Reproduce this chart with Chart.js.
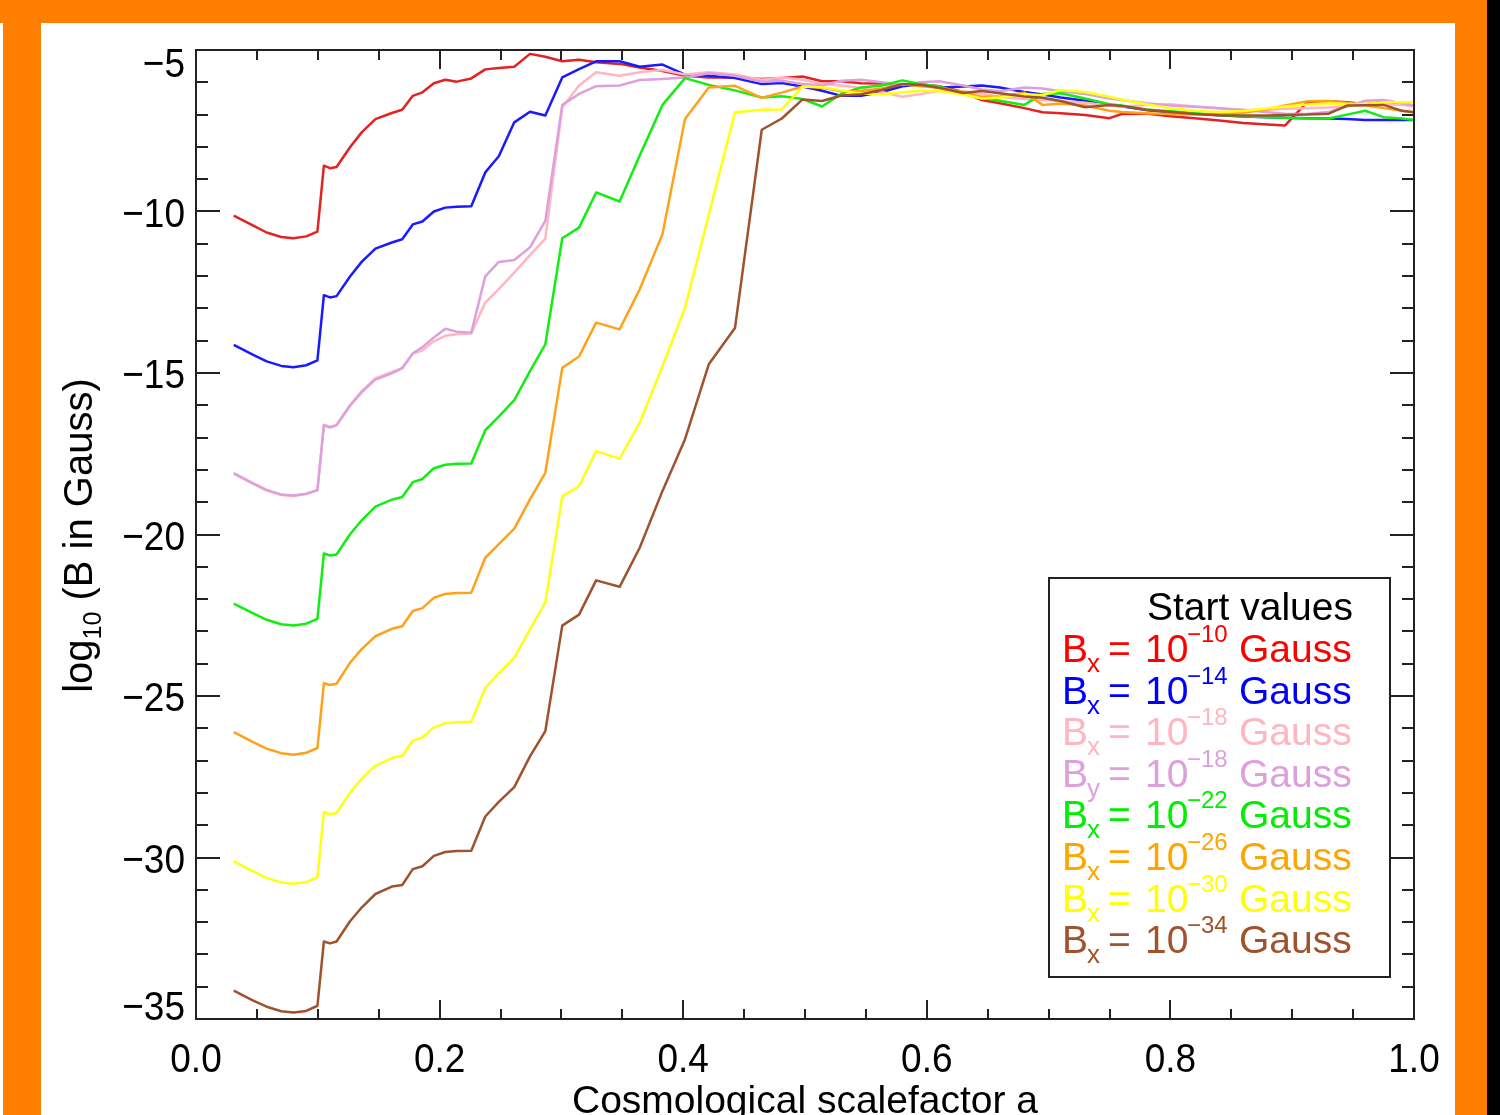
<!DOCTYPE html>
<html>
<head>
<meta charset="utf-8">
<script src="https://cdn.jsdelivr.net/npm/chart.js@4.4.1/dist/chart.umd.min.js"></script>
<style>
  html, body { margin:0; padding:0; }
  body { width:1500px; height:1115px; overflow:hidden; background:#ff7f00; position:relative; font-family:"Liberation Sans", Arial, sans-serif; }
  #strip { position:absolute; left:0; top:23px; width:3px; height:1092px; background:#ffffff; }
  #panel { position:absolute; left:41px; top:23px; width:1414px; height:1092px; background:#ffffff; }
  #edge { position:absolute; left:1487px; top:0; width:13px; height:1115px; background:#000000; }
  #c { position:absolute; left:0; top:0; }
</style>
</head>
<body>
<div id="strip"></div>
<div id="panel"></div>
<div id="edge"></div>
<canvas id="c" width="1500" height="1115"></canvas>
<script>
// ---------- data ----------
const aGrid = [0.031,0.047,0.058,0.070,0.080,0.0905,0.0997,0.105,0.110,0.1154,0.1263,0.136,0.1473,0.1608,0.1693,0.178,0.1859,0.1953,0.2047,0.2141,0.226,0.2375,0.2486,0.2613,0.2742,0.2868,0.3007,0.3145,0.3285,0.3478,0.3643,0.383,0.4015,0.421,0.4425,0.4645,0.481,0.498,0.514,0.53,0.546,0.563,0.58,0.595,0.61,0.63,0.645,0.66,0.68,0.695,0.71,0.73,0.75,0.76,0.78,0.80,0.82,0.84,0.86,0.88,0.894,0.912,0.93,0.945,0.96,0.975,0.99,1.0];

const bx10 = [-10.13,-10.44,-10.65,-10.79,-10.83,-10.77,-10.62,-8.58,-8.66,-8.62,-8.02,-7.55,-7.14,-6.95,-6.85,-6.42,-6.31,-6.03,-5.92,-5.98,-5.88,-5.60,-5.56,-5.52,-5.12,-5.21,-5.35,-5.30,-5.38,-5.43,-5.54,-5.65,-5.80,-5.85,-5.84,-5.90,-5.87,-5.82,-5.97,-5.97,-6.03,-6.04,-6.10,-6.07,-6.12,-6.30,-6.55,-6.65,-6.80,-6.93,-6.96,-7.01,-7.11,-6.98,-6.97,-7.05,-7.11,-7.18,-7.26,-7.31,-7.34,-6.62,-6.59,-6.62,-6.68,-6.60,-6.66,-6.72];

const bx14 = [-14.13,-14.44,-14.64,-14.78,-14.82,-14.76,-14.61,-12.59,-12.66,-12.62,-12.02,-11.56,-11.15,-10.96,-10.86,-10.40,-10.31,-10.00,-9.88,-9.85,-9.84,-8.79,-8.29,-7.24,-6.91,-7.03,-5.85,-5.59,-5.35,-5.35,-5.52,-5.45,-5.76,-5.80,-5.87,-6.05,-6.02,-6.13,-6.26,-6.42,-6.42,-6.30,-6.12,-6.06,-6.17,-6.13,-6.10,-6.16,-6.30,-6.38,-6.47,-6.57,-6.70,-6.74,-6.86,-6.93,-6.97,-7.02,-7.06,-7.08,-7.10,-7.11,-7.12,-7.14,-7.17,-7.17,-7.17,-7.17];

const bx18 = [-18.12,-18.43,-18.64,-18.78,-18.81,-18.75,-18.62,-16.60,-16.66,-16.61,-16.00,-15.56,-15.17,-14.97,-14.85,-14.40,-14.30,-14.02,-13.85,-13.80,-13.78,-12.82,-12.40,-11.89,-11.35,-10.84,-6.78,-6.10,-5.69,-5.80,-5.69,-5.62,-5.76,-5.69,-5.76,-5.92,-5.85,-5.92,-6.05,-6.10,-6.18,-6.30,-6.45,-6.36,-6.26,-6.28,-6.36,-6.45,-6.52,-6.55,-6.59,-6.63,-6.72,-6.76,-6.70,-6.68,-6.75,-6.80,-6.86,-6.85,-6.82,-6.80,-6.78,-6.74,-6.70,-6.68,-6.70,-6.74];

const by18 = [-18.10,-18.42,-18.62,-18.76,-18.79,-18.74,-18.63,-16.62,-16.69,-16.62,-16.02,-15.60,-15.20,-15.01,-14.85,-14.39,-14.20,-13.90,-13.63,-13.72,-13.75,-12.01,-11.56,-11.50,-11.11,-10.29,-6.70,-6.36,-6.12,-6.10,-5.93,-5.90,-5.85,-5.72,-5.80,-5.98,-5.95,-6.05,-6.10,-5.95,-5.92,-6.00,-6.08,-6.00,-5.97,-6.10,-6.22,-6.28,-6.16,-6.19,-6.28,-6.36,-6.50,-6.55,-6.65,-6.72,-6.76,-6.80,-6.86,-6.93,-6.97,-6.98,-6.92,-6.75,-6.57,-6.55,-6.65,-6.72];

const bx22 = [-22.14,-22.44,-22.64,-22.78,-22.82,-22.76,-22.61,-20.59,-20.65,-20.62,-20.00,-19.56,-19.14,-18.92,-18.84,-18.38,-18.28,-17.95,-17.84,-17.81,-17.80,-16.77,-16.35,-15.84,-14.94,-14.11,-10.83,-10.50,-9.41,-9.69,-8.27,-6.70,-5.87,-6.08,-6.25,-6.47,-6.43,-6.52,-6.75,-6.35,-6.16,-6.10,-5.94,-6.06,-6.12,-6.36,-6.48,-6.57,-6.70,-6.36,-6.34,-6.50,-6.68,-6.72,-6.84,-6.90,-6.96,-7.01,-7.05,-7.08,-7.10,-7.12,-7.12,-7.00,-6.88,-7.08,-7.12,-7.17];

const bx26 = [-26.12,-26.43,-26.63,-26.77,-26.82,-26.76,-26.61,-24.60,-24.66,-24.62,-23.98,-23.55,-23.15,-22.92,-22.84,-22.37,-22.28,-21.96,-21.84,-21.81,-21.80,-20.72,-20.30,-19.82,-18.91,-18.09,-14.84,-14.49,-13.44,-13.65,-12.41,-10.70,-7.14,-6.16,-6.11,-6.48,-6.32,-6.13,-6.17,-6.28,-6.27,-6.19,-6.06,-6.12,-6.17,-6.30,-6.45,-6.44,-6.32,-6.70,-6.66,-6.72,-6.88,-6.92,-6.96,-6.98,-7.00,-6.97,-6.94,-6.83,-6.72,-6.59,-6.58,-6.64,-6.71,-6.80,-6.88,-6.93];

const bx30 = [-30.12,-30.43,-30.63,-30.77,-30.81,-30.76,-30.61,-28.59,-28.66,-28.62,-28.00,-27.56,-27.16,-26.92,-26.85,-26.38,-26.28,-25.97,-25.84,-25.81,-25.80,-24.75,-24.30,-23.82,-22.94,-22.10,-18.82,-18.50,-17.42,-17.65,-16.53,-14.79,-12.98,-10.10,-6.93,-6.85,-6.84,-6.13,-6.15,-6.25,-6.35,-6.37,-6.31,-6.26,-6.27,-6.38,-6.50,-6.47,-6.36,-6.40,-6.24,-6.30,-6.45,-6.53,-6.68,-6.80,-6.88,-6.92,-6.89,-6.80,-6.75,-6.69,-6.65,-6.67,-6.67,-6.62,-6.62,-6.62];

const bx34 = [-34.12,-34.43,-34.62,-34.76,-34.80,-34.75,-34.59,-32.60,-32.66,-32.60,-31.98,-31.55,-31.13,-30.90,-30.85,-30.36,-30.27,-29.95,-29.83,-29.80,-29.79,-28.73,-28.28,-27.82,-26.87,-26.09,-22.82,-22.48,-21.42,-21.62,-20.41,-18.65,-17.05,-14.73,-13.61,-7.47,-7.12,-6.53,-6.58,-6.41,-6.37,-6.24,-6.05,-6.08,-6.17,-6.33,-6.27,-6.34,-6.44,-6.48,-6.58,-6.77,-6.70,-6.73,-6.85,-6.92,-6.98,-7.02,-7.03,-7.03,-7.01,-7.00,-6.97,-6.72,-6.71,-6.70,-6.88,-6.93];

const seriesValues = [bx10, bx14, bx18, by18, bx22, bx26, bx30, bx34];
const seriesLabels = ['Bx = 10^-10 Gauss','Bx = 10^-14 Gauss','Bx = 10^-18 Gauss','By = 10^-18 Gauss','Bx = 10^-22 Gauss','Bx = 10^-26 Gauss','Bx = 10^-30 Gauss','Bx = 10^-34 Gauss'];
const legendComponent = ['x','x','x','y','x','x','x','x'];
const legendExponent = ['\u221210','\u221214','\u221218','\u221218','\u221222','\u221226','\u221230','\u221234'];
const seriesColors = ['#ff0000','#0000ff','#ffb6c1','#dda0dd','#00ee00','#ffa500','#ffff00','#a0522d'];
const lineColors = ['#e42222','#1a1aff','#ffb6c1','#dda0dd','#11ee11','#ffa21a','#ffff11','#a0522d'];

const xTickValues = [0.0, 0.2, 0.4, 0.6, 0.8, 1.0];
const xTickLabels = ['0.0','0.2','0.4','0.6','0.8','1.0'];
const yTickValues = [-35, -30, -25, -20, -15, -10, -5];
const yTickLabels = ['\u221235','\u221230','\u221225','\u221220','\u221215','\u221210','\u22125'];

const legendTitle = 'Start values';
const xTitle = 'Cosmological scalefactor a';
const yTitleMain = 'log';
const yTitleSub = '10';
const yTitleRest = ' (B in Gauss)';

// ---------- chart ----------
const FONT = '"Liberation Sans", Arial, Helvetica, sans-serif';

const datasets = seriesValues.map((vals, k) => ({
  label: seriesLabels[k],
  data: aGrid.map((a, i) => ({ x: a, y: vals[i] })),
  borderColor: lineColors[k],
  backgroundColor: lineColors[k],
  borderWidth: 2.5,
  pointRadius: 0,
  tension: 0,
  fill: false,
  borderJoinStyle: 'round',
  order: seriesValues.length - k
}));

const idlFrame = {
  id: 'idlFrame',
  afterDatasetsDraw(chart) {
    const ctx = chart.ctx;
    const { left, right, top, bottom } = chart.chartArea;
    const xs = chart.scales.x, ys = chart.scales.y;
    ctx.save();
    ctx.strokeStyle = '#222';
    ctx.lineWidth = 2;
    ctx.strokeRect(left, top, right - left, bottom - top);
    ctx.beginPath();
    for (let i = 0; i <= 20; i++) {
      const px = Math.round(xs.getPixelForValue(i * 0.05));
      const len = (i % 4 === 0) ? 19 : 10;
      ctx.moveTo(px, bottom); ctx.lineTo(px, bottom - len);
      ctx.moveTo(px, top); ctx.lineTo(px, top + len);
    }
    for (let i = 0; i <= 30; i++) {
      const py = Math.round(ys.getPixelForValue(-35 + i));
      const len = (i % 5 === 0) ? 24 : 12;
      ctx.moveTo(left, py); ctx.lineTo(left + len, py);
      ctx.moveTo(right, py); ctx.lineTo(right - len, py);
    }
    ctx.stroke();

    // tick labels (slightly tall font like the original)
    ctx.fillStyle = '#000';
    ctx.font = '37px ' + FONT;
    const sy = 1.12;
    ctx.textBaseline = 'alphabetic';
    ctx.textAlign = 'center';
    xTickValues.forEach((v, i) => {
      const px = xs.getPixelForValue(v);
      ctx.save(); ctx.translate(px, 1072); ctx.scale(1, sy);
      ctx.fillText(xTickLabels[i], 0, 0); ctx.restore();
    });
    ctx.textAlign = 'right';
    yTickValues.forEach((v, i) => {
      const py = ys.getPixelForValue(v);
      const cy = Math.min(Math.max(py, top + 12), bottom - 14);
      ctx.save(); ctx.translate(185, cy + 15); ctx.scale(1, sy);
      ctx.fillText(yTickLabels[i], 0, 0); ctx.restore();
    });

    // x title
    ctx.textAlign = 'center';
    ctx.font = '39px ' + FONT;
    ctx.fillText(xTitle, (left + right) / 2, 1113);

    // y title, rotated, with subscript
    ctx.save();
    ctx.translate(92, (top + bottom) / 2 + 1);
    ctx.rotate(-Math.PI / 2);
    ctx.textAlign = 'left';
    const big = '40px ' + FONT, small = '25px ' + FONT;
    ctx.font = big; const w1 = ctx.measureText(yTitleMain).width; const w3 = ctx.measureText(yTitleRest).width;
    ctx.font = small; const w2 = ctx.measureText(yTitleSub).width;
    let x0 = -(w1 + w2 + w3) / 2;
    ctx.font = big; ctx.fillText(yTitleMain, x0, 0); x0 += w1;
    ctx.font = small; ctx.fillText(yTitleSub, x0, 9); x0 += w2;
    ctx.font = big; ctx.fillText(yTitleRest, x0, 0);
    ctx.restore();

    // legend box
    ctx.strokeStyle = '#222';
    ctx.lineWidth = 2;
    ctx.strokeRect(1049, 578, 341, 399);
    ctx.textAlign = 'left';
    ctx.font = '39px ' + FONT;
    ctx.fillStyle = '#000';
    ctx.fillText(legendTitle, 1147, 620);
    for (let k = 0; k < seriesLabels.length; k++) {
      const by = 662 + k * 41.6;
      ctx.fillStyle = seriesColors[k];
      ctx.font = '39px ' + FONT;
      ctx.fillText('B', 1062, by);
      ctx.fillText('=', 1108, by);
      ctx.fillText('10', 1145, by);
      ctx.fillText('Gauss', 1239, by);
      ctx.font = '26px ' + FONT;
      ctx.fillText(legendComponent[k], 1087, by + 10);
      ctx.font = '24px ' + FONT;
      ctx.fillText(legendExponent[k], 1187, by - 20);
    }
    ctx.restore();
  }
};

new Chart(document.getElementById('c'), {
  type: 'line',
  data: { datasets },
  options: {
    responsive: false,
    animation: false,
    devicePixelRatio: 1,
    layout: { padding: { top: 50, right: 86, left: 0, bottom: 0 } },
    plugins: { legend: { display: false }, tooltip: { enabled: false }, title: { display: false } },
    scales: {
      x: {
        type: 'linear', min: 0, max: 1, position: 'bottom',
        grid: { display: false, drawTicks: false }, border: { display: false },
        ticks: { display: false },
        afterFit: s => { s.height = 96; }
      },
      y: {
        type: 'linear', min: -35, max: -5, position: 'left',
        grid: { display: false, drawTicks: false }, border: { display: false },
        ticks: { display: false },
        afterFit: s => { s.width = 196; }
      }
    }
  },
  plugins: [idlFrame]
});
</script>
</body>
</html>
